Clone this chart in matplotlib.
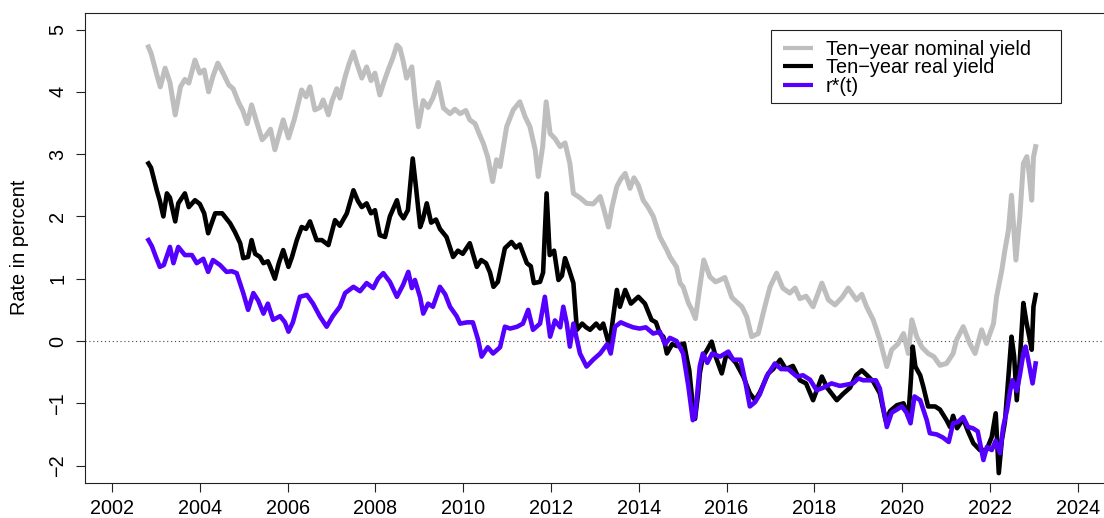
import matplotlib
matplotlib.use("Agg")
import matplotlib.pyplot as plt
from matplotlib.lines import Line2D
from matplotlib.patches import Rectangle

plt.rcParams['font.family'] = ['Liberation Sans', 'DejaVu Sans']

# ---------------- data ----------------
nominal_t = [2002.83, 2002.89, 2002.95, 2003.03, 2003.10, 2003.21, 2003.32, 2003.44, 2003.56, 2003.66,
             2003.75, 2003.89, 2004.00, 2004.10, 2004.20, 2004.30, 2004.41, 2004.53, 2004.66, 2004.76,
             2004.89, 2004.98, 2005.08, 2005.18, 2005.28, 2005.42, 2005.51, 2005.61, 2005.71, 2005.80,
             2005.90, 2006.02, 2006.15, 2006.32, 2006.42, 2006.51, 2006.62, 2006.74, 2006.81, 2006.93,
             2007.01, 2007.12, 2007.19, 2007.31, 2007.40, 2007.50, 2007.58, 2007.69, 2007.80, 2007.90,
             2007.99, 2008.10, 2008.19, 2008.29, 2008.40, 2008.49, 2008.56, 2008.63, 2008.71, 2008.83,
             2008.90, 2008.98, 2009.09, 2009.20, 2009.31, 2009.43, 2009.55, 2009.70, 2009.81, 2009.93,
             2010.06, 2010.15, 2010.27, 2010.38, 2010.46, 2010.56, 2010.67, 2010.76, 2010.84, 2010.91,
             2010.99, 2011.14, 2011.29, 2011.41, 2011.52, 2011.64, 2011.71, 2011.81, 2011.89, 2011.98,
             2012.09, 2012.21, 2012.32, 2012.43, 2012.51, 2012.66, 2012.81, 2012.96, 2013.12, 2013.21,
             2013.31, 2013.39, 2013.50, 2013.59, 2013.69, 2013.80, 2013.89, 2013.99, 2014.10, 2014.21,
             2014.33, 2014.48, 2014.64, 2014.71, 2014.86, 2014.94, 2015.01, 2015.13, 2015.21, 2015.29,
             2015.39, 2015.48, 2015.62, 2015.75, 2015.85, 2015.96, 2016.12, 2016.24, 2016.35, 2016.46,
             2016.57, 2016.72, 2016.87, 2016.99, 2017.14, 2017.28, 2017.44, 2017.56, 2017.67, 2017.81,
             2017.97, 2018.17, 2018.32, 2018.47, 2018.63, 2018.77, 2018.96, 2019.08, 2019.19, 2019.34,
             2019.49, 2019.65, 2019.76, 2019.90, 2020.03, 2020.14, 2020.22, 2020.33, 2020.45, 2020.59,
             2020.72, 2020.86, 2021.01, 2021.16, 2021.24, 2021.39, 2021.54, 2021.66, 2021.81, 2021.92,
             2022.08, 2022.15, 2022.27, 2022.34, 2022.42, 2022.49, 2022.59, 2022.68, 2022.76, 2022.84,
             2022.89, 2022.95, 2022.99, 2023.04]
nominal_v = [4.72, 4.62, 4.46, 4.25, 4.08, 4.38, 4.15, 3.63, 4.08, 4.20,
             4.14, 4.51, 4.30, 4.35, 4.00, 4.25, 4.46, 4.30, 4.11, 4.05,
             3.82, 3.70, 3.49, 3.79, 3.55, 3.23, 3.30, 3.40, 3.07, 3.30,
             3.55, 3.26, 3.55, 4.03, 3.92, 4.08, 3.71, 3.75, 3.87, 3.63,
             3.85, 4.05, 3.90, 4.24, 4.45, 4.64, 4.45, 4.22, 4.40, 4.18,
             4.30, 3.95, 4.15, 4.35, 4.55, 4.75, 4.70, 4.50, 4.22, 4.40,
             3.90, 3.44, 3.86, 3.75, 3.90, 4.15, 3.74, 3.65, 3.72, 3.65,
             3.70, 3.55, 3.49, 3.30, 3.17, 2.95, 2.56, 2.91, 2.80, 3.10,
             3.44, 3.71, 3.84, 3.60, 3.44, 3.07, 2.64, 3.12, 3.84, 3.33,
             3.25, 3.12, 3.18, 2.85, 2.37, 2.30, 2.21, 2.20, 2.32, 2.10,
             1.83, 2.15, 2.48, 2.60, 2.69, 2.45, 2.62, 2.50, 2.26, 2.15,
             2.00, 1.67, 1.46, 1.35, 1.19, 0.93, 0.87, 0.61, 0.50, 0.36,
             0.87, 1.30, 1.03, 0.95, 0.98, 1.02, 0.70, 0.62, 0.55, 0.39,
             0.07, 0.12, 0.55, 0.87, 1.09, 0.85, 0.77, 0.85, 0.68, 0.72,
             0.55, 0.93, 0.66, 0.58, 0.70, 0.85, 0.66, 0.75, 0.55, 0.34,
             0.02, -0.41, -0.14, -0.05, 0.12, -0.20, 0.34, 0.07, -0.10, -0.20,
             -0.25, -0.39, -0.36, -0.20, 0.02, 0.23, -0.04, -0.20, 0.18, -0.04,
             0.28, 0.71, 1.14, 1.46, 1.78, 2.34, 1.30, 2.00, 2.85, 2.96,
             2.70, 2.26, 2.95, 3.12]

real_t = [2002.83, 2002.89, 2003.02, 2003.09, 2003.17, 2003.25, 2003.32, 2003.44, 2003.51, 2003.66,
          2003.75, 2003.89, 2004.00, 2004.10, 2004.19, 2004.35, 2004.51, 2004.69, 2004.80, 2004.92,
          2004.99, 2005.10, 2005.18, 2005.26, 2005.37, 2005.45, 2005.55, 2005.60, 2005.71, 2005.80,
          2005.90, 2006.02, 2006.10, 2006.21, 2006.32, 2006.42, 2006.51, 2006.66, 2006.78, 2006.93,
          2007.08, 2007.19, 2007.35, 2007.50, 2007.60, 2007.69, 2007.80, 2007.90, 2007.99, 2008.10,
          2008.22, 2008.33, 2008.49, 2008.56, 2008.64, 2008.74, 2008.85, 2008.92, 2009.02, 2009.08,
          2009.17, 2009.27, 2009.38, 2009.47, 2009.62, 2009.77, 2009.88, 2009.99, 2010.15, 2010.31,
          2010.41, 2010.52, 2010.61, 2010.69, 2010.79, 2010.95, 2011.10, 2011.20, 2011.29, 2011.45,
          2011.54, 2011.61, 2011.75, 2011.82, 2011.90, 2011.97, 2012.07, 2012.17, 2012.25, 2012.32,
          2012.41, 2012.51, 2012.59, 2012.71, 2012.80, 2012.89, 2013.03, 2013.12, 2013.19, 2013.28,
          2013.33, 2013.41, 2013.50, 2013.57, 2013.69, 2013.82, 2013.99, 2014.14, 2014.29, 2014.39,
          2014.48, 2014.56, 2014.64, 2014.76, 2014.87, 2015.03, 2015.10, 2015.15, 2015.24, 2015.28,
          2015.35, 2015.39, 2015.46, 2015.55, 2015.66, 2015.75, 2015.89, 2016.00, 2016.12, 2016.21,
          2016.38, 2016.53, 2016.65, 2016.76, 2016.95, 2017.06, 2017.22, 2017.35, 2017.51, 2017.67,
          2017.81, 2017.97, 2018.17, 2018.29, 2018.51, 2018.65, 2018.81, 2018.95, 2019.08, 2019.20,
          2019.34, 2019.49, 2019.62, 2019.73, 2019.88, 2020.03, 2020.14, 2020.20, 2020.24, 2020.30,
          2020.41, 2020.48, 2020.59, 2020.75, 2020.86, 2021.01, 2021.09, 2021.16, 2021.25, 2021.39,
          2021.50, 2021.62, 2021.77, 2021.92, 2022.04, 2022.13, 2022.20, 2022.27, 2022.34, 2022.42,
          2022.49, 2022.55, 2022.61, 2022.68, 2022.76, 2022.83, 2022.90, 2022.95, 2022.99, 2023.04]
real_v = [2.85, 2.78, 2.42, 2.25, 2.00, 2.37, 2.30, 1.92, 2.21, 2.37,
          2.15, 2.26, 2.20, 2.05, 1.73, 2.05, 2.05, 1.89, 1.75, 1.57,
          1.33, 1.35, 1.62, 1.40, 1.35, 1.25, 1.28, 1.20, 1.00, 1.25,
          1.46, 1.19, 1.35, 1.62, 1.83, 1.80, 1.92, 1.62, 1.62, 1.54,
          1.94, 1.85, 2.05, 2.42, 2.25, 2.15, 2.21, 2.05, 2.10, 1.70,
          1.67, 2.00, 2.26, 2.05, 1.97, 2.10, 2.93, 2.50, 1.83, 1.95,
          2.21, 1.90, 1.95, 1.80, 1.67, 1.35, 1.45, 1.40, 1.57, 1.19,
          1.30, 1.25, 1.10, 0.87, 0.95, 1.49, 1.59, 1.50, 1.55, 1.25,
          1.20, 0.93, 0.95, 1.10, 2.37, 1.38, 1.45, 0.98, 1.05, 1.33,
          1.15, 0.93, 0.18, 0.28, 0.22, 0.18, 0.28, 0.20, 0.28, 0.05,
          -0.09, 0.35, 0.82, 0.55, 0.82, 0.60, 0.71, 0.60, 0.34, 0.30,
          0.12, 0.07, -0.20, -0.05, -0.08, -0.04, -0.30, -0.47, -1.11, -1.25,
          -0.85, -0.52, -0.25, -0.15, -0.01, -0.25, -0.52, -0.20, -0.28, -0.35,
          -0.57, -0.84, -0.95, -0.82, -0.52, -0.45, -0.30, -0.45, -0.40, -0.63,
          -0.68, -0.95, -0.57, -0.75, -0.95, -0.85, -0.75, -0.55, -0.47, -0.55,
          -0.65, -0.84, -1.27, -1.12, -1.03, -1.00, -1.22, -0.60, -0.09, -0.41,
          -0.55, -0.73, -1.05, -1.05, -1.10, -1.27, -1.38, -1.20, -1.40, -1.25,
          -1.45, -1.64, -1.75, -1.75, -1.54, -1.16, -2.12, -1.59, -1.30, -0.57,
          0.07, -0.25, -0.95, -0.30, 0.61, 0.30, 0.05, -0.14, 0.55, 0.74]

rstar_t = [2002.83, 2002.91, 2003.00, 2003.09, 2003.18, 2003.32, 2003.40, 2003.51, 2003.66, 2003.82,
           2003.93, 2004.08, 2004.19, 2004.30, 2004.46, 2004.61, 2004.73, 2004.84, 2004.99, 2005.10,
           2005.22, 2005.33, 2005.45, 2005.55, 2005.67, 2005.83, 2005.94, 2006.02, 2006.12, 2006.28,
           2006.44, 2006.58, 2006.74, 2006.89, 2007.03, 2007.19, 2007.31, 2007.50, 2007.65, 2007.80,
           2007.95, 2008.06, 2008.18, 2008.33, 2008.49, 2008.63, 2008.75, 2008.83, 2008.90, 2009.02,
           2009.09, 2009.20, 2009.31, 2009.47, 2009.59, 2009.70, 2009.85, 2009.93, 2010.09, 2010.22,
           2010.34, 2010.42, 2010.56, 2010.68, 2010.84, 2010.95, 2011.07, 2011.23, 2011.36, 2011.48,
           2011.59, 2011.75, 2011.86, 2011.98, 2012.09, 2012.21, 2012.28, 2012.36, 2012.43, 2012.51,
           2012.66, 2012.81, 2012.96, 2013.12, 2013.28, 2013.36, 2013.46, 2013.59, 2013.72, 2013.87,
           2014.02, 2014.16, 2014.33, 2014.48, 2014.60, 2014.71, 2014.86, 2015.01, 2015.13, 2015.23,
           2015.28, 2015.39, 2015.46, 2015.56, 2015.67, 2015.85, 2016.04, 2016.15, 2016.32, 2016.42,
           2016.53, 2016.65, 2016.76, 2016.91, 2017.10, 2017.24, 2017.40, 2017.60, 2017.74, 2017.90,
           2018.05, 2018.20, 2018.39, 2018.58, 2018.74, 2018.88, 2019.00, 2019.11, 2019.28, 2019.40,
           2019.49, 2019.65, 2019.76, 2019.88, 2019.99, 2020.10, 2020.19, 2020.28, 2020.41, 2020.56,
           2020.63, 2020.79, 2020.93, 2021.06, 2021.16, 2021.27, 2021.39, 2021.50, 2021.61, 2021.72,
           2021.85, 2021.93, 2022.04, 2022.13, 2022.23, 2022.30, 2022.39, 2022.46, 2022.51, 2022.61,
           2022.68, 2022.76, 2022.81, 2022.87, 2022.97, 2023.04]
rstar_v = [1.62, 1.52, 1.35, 1.19, 1.22, 1.51, 1.25, 1.51, 1.38, 1.38,
           1.25, 1.32, 1.11, 1.30, 1.22, 1.11, 1.12, 1.09, 0.77, 0.50,
           0.77, 0.65, 0.44, 0.60, 0.34, 0.40, 0.30, 0.15, 0.30, 0.71,
           0.74, 0.60, 0.39, 0.23, 0.40, 0.55, 0.77, 0.87, 0.80, 0.93,
           0.85, 1.00, 1.09, 0.95, 0.71, 0.90, 1.11, 0.85, 0.98, 0.70,
           0.44, 0.60, 0.55, 0.87, 0.75, 0.55, 0.40, 0.28, 0.30, 0.30,
           0.02, -0.25, -0.10, -0.20, -0.10, 0.23, 0.20, 0.23, 0.28, 0.50,
           0.18, 0.28, 0.71, 0.07, 0.33, 0.22, 0.55, 0.28, -0.09, 0.28,
           -0.20, -0.41, -0.30, -0.20, -0.05, -0.20, 0.23, 0.30, 0.26, 0.22,
           0.20, 0.22, 0.12, 0.15, -0.05, 0.05, 0.00, -0.20, -0.73, -1.27,
           -1.22, -0.40, -0.20, -0.35, -0.20, -0.25, -0.17, -0.30, -0.30, -0.63,
           -1.05, -0.98, -0.85, -0.57, -0.36, -0.45, -0.45, -0.57, -0.55, -0.62,
           -0.79, -0.75, -0.68, -0.72, -0.70, -0.68, -0.60, -0.63, -0.63, -0.63,
           -0.76, -1.38, -1.15, -1.10, -1.05, -1.15, -1.32, -0.89, -0.95, -1.27,
           -1.48, -1.50, -1.55, -1.62, -1.32, -1.30, -1.22, -1.38, -1.40, -1.45,
           -1.91, -1.70, -1.75, -1.60, -1.80, -1.38, -1.10, -0.79, -0.63, -0.80,
           -0.55, -0.20, -0.09, -0.30, -0.68, -0.36]

series_labels = ["Ten\u2212year nominal yield", "Ten\u2212year real yield", "r*(t)"]
series_colors = ["#BEBEBE", "#000000", "#5500FF"]
x_ticks = [2002, 2004, 2006, 2008, 2010, 2012, 2014, 2016, 2018, 2020, 2022, 2024]
y_ticks = [-2, -1, 0, 1, 2, 3, 4, 5]
y_label = "Rate in percent"

# ---------------- figure ----------------
W, H = 1104, 518
fig = plt.figure(figsize=(W / 100, H / 100), dpi=100)

def fx(px):
    return px / W

def fy(py):
    return 1 - py / H

left, right, top, bottom = 85, 1104, 12.7, 482.7
ax = fig.add_axes([fx(left), fy(bottom), fx(right) - fx(left), fy(top) - fy(bottom)])

FS = 14.3
ax.axhline(0, color="#444444", lw=0.8, linestyle=(0, (1, 2.5)), zorder=1)
ax.plot(nominal_t, nominal_v, color=series_colors[0], lw=3.6, solid_joinstyle="round", zorder=2)
ax.plot(real_t, real_v, color=series_colors[1], lw=3.3, solid_joinstyle="round", zorder=3)
ax.plot(rstar_t, rstar_v, color=series_colors[2], lw=3.3, solid_joinstyle="round", zorder=4)

ax.set_xlim(2001.385, 2024.597)
ax.set_ylim(-2.274, 5.270)
ax.set_xticks(x_ticks)
ax.set_xticklabels([str(t) for t in x_ticks], fontsize=FS)
ax.set_yticks(y_ticks)
ax.set_yticklabels([("\u2212" + str(-t)) if t < 0 else str(t) for t in y_ticks],
                   fontsize=FS, rotation=90, va="center")
ax.tick_params(axis="both", direction="out", length=6.7, width=0.8, color="#222222")
ax.tick_params(axis="x", pad=5)
ax.tick_params(axis="y", pad=6)
for s in ["left", "top", "bottom"]:
    ax.spines[s].set_linewidth(0.8)
    ax.spines[s].set_color("#222222")
ax.spines["right"].set_visible(False)

fig.text(fx(19.5), fy(247.7), y_label, rotation=90, fontsize=FS, ha="center", va="center")

# ---------------- legend (drawn by hand to match the R layout) ----------------
lx0, lx1, ly0, ly1 = 770.7, 1061, 30, 103
fig.patches.append(Rectangle((fx(lx0), fy(ly1)), fx(lx1) - fx(lx0), fy(ly0) - fy(ly1),
                             transform=fig.transFigure, fill=True, facecolor="white",
                             edgecolor="#222222", lw=0.8, zorder=5))
rows = [48.0, 66.3, 84.7]
for lab, col, ry in zip(series_labels, series_colors, rows):
    fig.lines.append(Line2D([fx(782.7), fx(813.3)], [fy(ry), fy(ry)], transform=fig.transFigure,
                            color=col, lw=3.0, solid_capstyle="butt", zorder=6))
    fig.text(fx(826), fy(ry + 7.1), lab, fontsize=FS, ha="left", va="baseline", zorder=6)

fig.savefig("out.png", dpi=100)
